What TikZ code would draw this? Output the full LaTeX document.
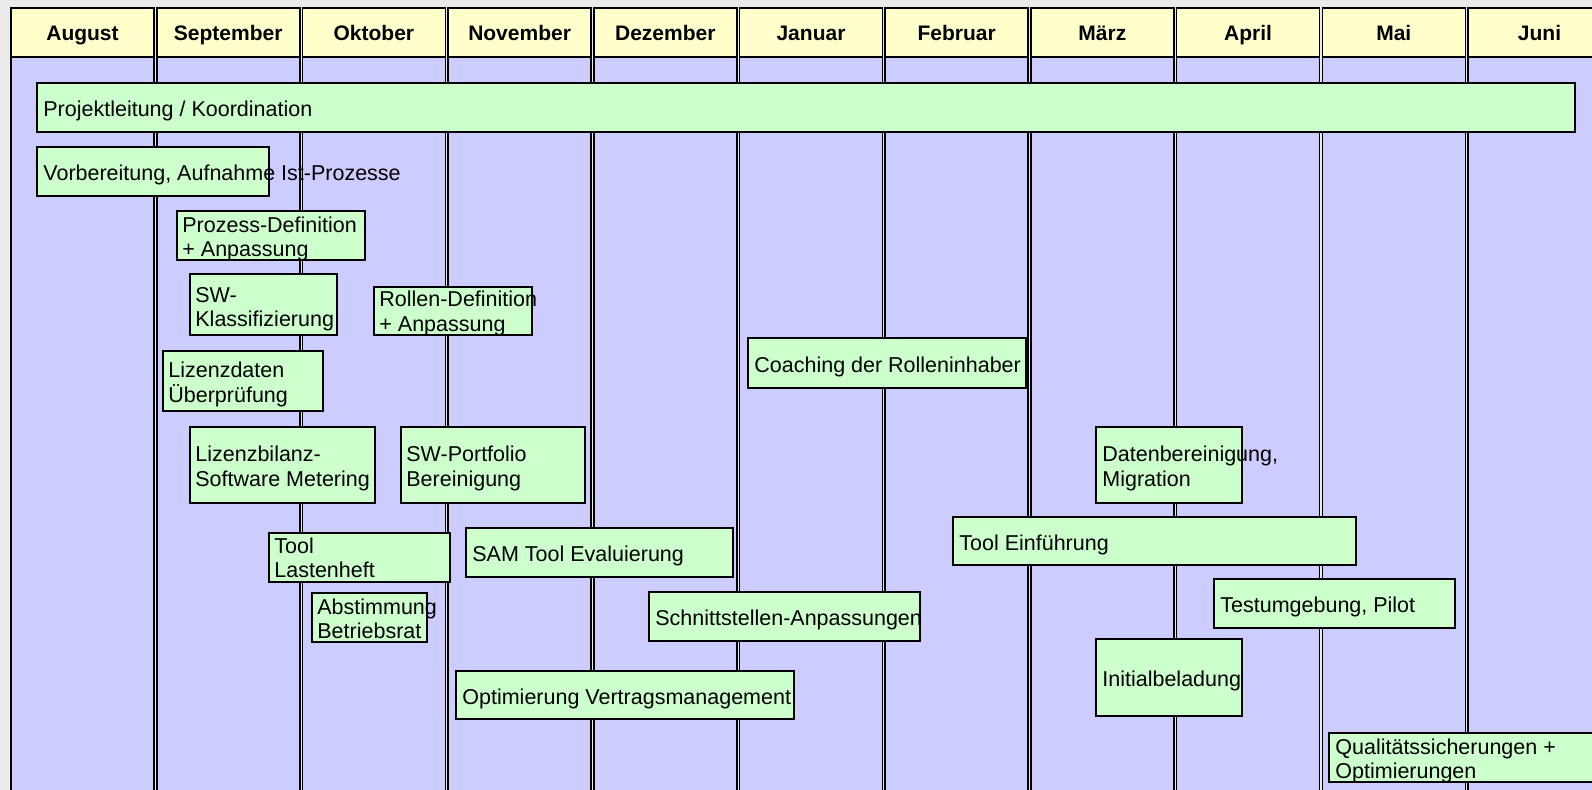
\documentclass[tikz,border=0pt]{standalone}
\usepackage{fontspec}
\setmainfont{Liberation Sans}
\definecolor{headyellow}{HTML}{FFFFCC}
\definecolor{monthblue}{HTML}{CCCCFF}
\definecolor{taskgreen}{HTML}{CCFFCC}
\definecolor{framegray}{HTML}{EAEAEA}

\begin{document}
\begin{tikzpicture}[x=0.5pt, y=-0.5pt,
  monthcol/.style={draw=black, line width=0.8pt, fill=monthblue},
  monthhead/.style={draw=black, line width=0.8pt, fill=headyellow},
  monthname/.style={anchor=base, inner sep=0pt, font=\bfseries\fontsize{10.5}{12}\selectfont},
  taskbox/.style={draw=black, line width=0.8pt, fill=taskgreen},
  tasktext/.style={anchor=west, align=left, inner sep=0pt, font=\fontsize{10.75}{12.2}\selectfont}]
\useasboundingbox (0,0) rectangle (1592,790);
\fill[framegray] (0,0) rectangle (1592,790);
\clip (0,0) rectangle (1592,790);
% month columns
\draw[monthcol] (11,8) rectangle (154,800);
\draw[monthhead] (11,8) rectangle (154,57);
\node[monthname] (aug) at (82.5,41) {August};
\draw[monthcol] (156.7,8) rectangle (299.7,800);
\draw[monthhead] (156.7,8) rectangle (299.7,57);
\node[monthname] (sep) at (228.2,41) {September};
\draw[monthcol] (302.4,8) rectangle (445.4,800);
\draw[monthhead] (302.4,8) rectangle (445.4,57);
\node[monthname] (okt) at (373.9,41) {Oktober};
\draw[monthcol] (448.1,8) rectangle (591.1,800);
\draw[monthhead] (448.1,8) rectangle (591.1,57);
\node[monthname] (nov) at (519.6,41) {November};
\draw[monthcol] (593.8,8) rectangle (736.8,800);
\draw[monthhead] (593.8,8) rectangle (736.8,57);
\node[monthname] (dez) at (665.3,41) {Dezember};
\draw[monthcol] (739.5,8) rectangle (882.5,800);
\draw[monthhead] (739.5,8) rectangle (882.5,57);
\node[monthname] (jan) at (811,41) {Januar};
\draw[monthcol] (885.2,8) rectangle (1028.2,800);
\draw[monthhead] (885.2,8) rectangle (1028.2,57);
\node[monthname] (feb) at (956.7,41) {Februar};
\draw[monthcol] (1030.9,8) rectangle (1173.9,800);
\draw[monthhead] (1030.9,8) rectangle (1173.9,57);
\node[monthname] (mar) at (1102.4,41) {März};
\draw[monthcol] (1176.6,8) rectangle (1319.6,800);
\draw[monthhead] (1176.6,8) rectangle (1319.6,57);
\node[monthname] (apr) at (1248.1,41) {April};
\draw[monthcol] (1322.3,8) rectangle (1465.3,800);
\draw[monthhead] (1322.3,8) rectangle (1465.3,57);
\node[monthname] (mai) at (1393.8,41) {Mai};
\draw[monthcol] (1468,8) rectangle (1611,800);
\draw[monthhead] (1468,8) rectangle (1611,57);
\node[monthname] (jun) at (1539.5,41) {Juni};
% task bars
\draw[taskbox] (37,83) rectangle (1575,132);
\draw[taskbox] (37,147) rectangle (269,196);
\draw[taskbox] (177,211) rectangle (365,260);
\draw[taskbox] (190,274) rectangle (337,335);
\draw[taskbox] (374,287) rectangle (532,335);
\draw[taskbox] (163,351) rectangle (323,411);
\draw[taskbox] (748,338) rectangle (1026,388);
\draw[taskbox] (190,427) rectangle (375,503);
\draw[taskbox] (401,427) rectangle (585,503);
\draw[taskbox] (1096,427) rectangle (1242,503);
\draw[taskbox] (269,533) rectangle (450,582);
\draw[taskbox] (466,528) rectangle (733,577);
\draw[taskbox] (953,517) rectangle (1356,565);
\draw[taskbox] (312,593) rectangle (427,642);
\draw[taskbox] (649,592) rectangle (920,641);
\draw[taskbox] (1214,579) rectangle (1455,628);
\draw[taskbox] (1096,639) rectangle (1242,716);
\draw[taskbox] (456,671) rectangle (794,719);
\draw[taskbox] (1329,733) rectangle (1620,782);
% task labels
\node[tasktext] (projekt) at (43,111) {Projektleitung / Koordination};
\node[tasktext] (vorber) at (43,175) {Vorbereitung, Aufnahme Ist-Prozesse};
\node[tasktext] (prozdef) at (182,239) {Prozess-Definition\\+ Anpassung};
\node[tasktext] (swklass) at (195,309.5) {SW-\\Klassifizierung};
\node[tasktext] (rollen) at (379,313.5) {Rollen-Definition\\+ Anpassung};
\node[tasktext] (lizdat) at (168,384.5) {Lizenzdaten\\Überprüfung};
\node[tasktext] (coaching) at (754,366.5) {Coaching der Rolleninhaber};
\node[tasktext] (lizbil) at (195,468.5) {Lizenzbilanz-\\Software Metering};
\node[tasktext] (portfolio) at (406,468.5) {SW-Portfolio\\Bereinigung};
\node[tasktext] (datenber) at (1102,468.5) {Datenbereinigung,\\Migration};
\node[tasktext] (lasten) at (274,558) {Tool\\Lastenheft};
\node[tasktext] (samtool) at (472,556) {SAM Tool Evaluierung};
\node[tasktext] (einf) at (959,544.5) {Tool Einführung};
\node[tasktext] (betrrat) at (317,619) {Abstimmung\\Betriebsrat};
\node[tasktext] (schnitt) at (655,620) {Schnittstellen-Anpassungen};
\node[tasktext] (pilot) at (1220,607) {Testumgebung, Pilot};
\node[tasktext] (initial) at (1102,681) {Initialbeladung};
\node[tasktext] (vertrag) at (462,698.5) {Optimierung Vertragsmanagement};
\node[tasktext] (quali) at (1335,761) {Qualitätssicherungen +\\Optimierungen};
\end{tikzpicture}
\end{document}
